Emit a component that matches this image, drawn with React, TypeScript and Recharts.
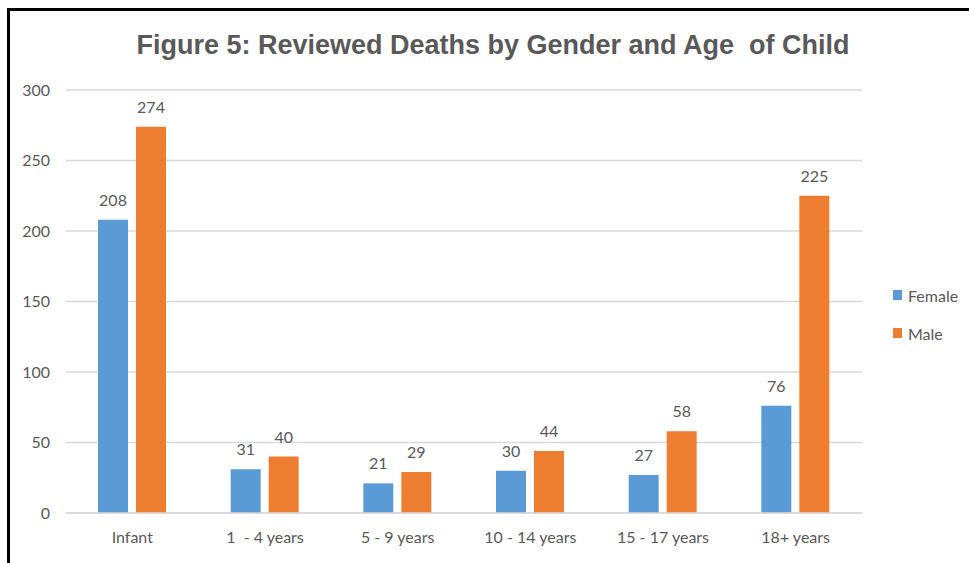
import { BarChart, Bar, XAxis, YAxis, CartesianGrid, Legend, LabelList } from 'recharts'

const ageGroups = ['Infant', '1\u00a0 - 4 years', '5 - 9 years', '10 - 14 years', '15 - 17 years', '18+ years']
const female = [208, 31, 21, 30, 27, 76]
const male = [274, 40, 29, 44, 58, 225]
const yTicks = [0, 50, 100, 150, 200, 250, 300]

const data = ageGroups.map((age, i) => ({ age, Female: female[i], Male: male[i] }))

const textGray = '#595959'
const font = 'Lato, "Open Sans", sans-serif'

function LegendBox({ payload }: any) {
  return (
    <div style={{ fontFamily: font, fontSize: 16, color: textGray }}>
      {(payload || []).map((p: any) => (
        <div key={p.value} style={{ display: 'flex', alignItems: 'center', height: 38 }}>
          <span style={{ width: 9, height: 10, background: p.color, marginRight: 6, display: 'inline-block' }} />
          {p.value}
        </div>
      ))}
    </div>
  )
}

export default function App() {
  return (
    <div style={{ position: 'absolute', left: 0, top: 0, width: 969, height: 563, overflow: 'hidden', background: '#fff' }}>
      {/* frame of the original figure, cut off on the right */}
      <div
        style={{
          position: 'absolute', left: 7, top: 8, width: 1000, height: 552,
          borderLeft: '3px solid #000', borderTop: '3px solid #000', borderBottom: '1px solid #e3e3e3',
        }}
      />
      <div
        style={{
          position: 'absolute', left: 0, top: 30, width: 986, textAlign: 'center',
          fontFamily: '"Liberation Sans", Arial, sans-serif', fontWeight: 'bold', fontSize: 27, color: textGray,
        }}
      >
        Figure 5: Reviewed Deaths by Gender and Age&nbsp; of Child
      </div>
      <BarChart
        width={969}
        height={563}
        data={data}
        margin={{ top: 90, right: 107, left: 0, bottom: 0 }}
        barSize={30}
        barGap={8}
        style={{ position: 'absolute', left: 0, top: 0 }}
      >
        <CartesianGrid vertical={false} stroke="#d9d9d9" strokeWidth={1.5} />
        <XAxis
          dataKey="age"
          height={50}
          axisLine={{ stroke: '#d9d9d9', strokeWidth: 1.5 }}
          tickLine={false}
          tickSize={0}
          tickMargin={19}
          tick={{ fill: textGray, fontSize: 16, fontFamily: font }}
          interval={0}
        />
        <YAxis
          width={66}
          domain={[0, 300]}
          ticks={yTicks}
          axisLine={false}
          tickLine={false}
          tickSize={0}
          tickMargin={16}
          tick={{ fill: textGray, fontSize: 16, fontFamily: font }}
        />
        <Legend
          layout="vertical"
          align="center"
          verticalAlign="middle"
          content={<LegendBox />}
          wrapperStyle={{ left: 893, top: 276, width: 76 }}
        />
        <Bar dataKey="Female" fill="#5b9bd5" isAnimationActive={false}>
          <LabelList dataKey="Female" position="top" offset={14} fill={textGray} fontSize={16} fontFamily={font} />
        </Bar>
        <Bar dataKey="Male" fill="#ed7d31" isAnimationActive={false}>
          <LabelList dataKey="Male" position="top" offset={14} fill={textGray} fontSize={16} fontFamily={font} />
        </Bar>
      </BarChart>
    </div>
  )
}
